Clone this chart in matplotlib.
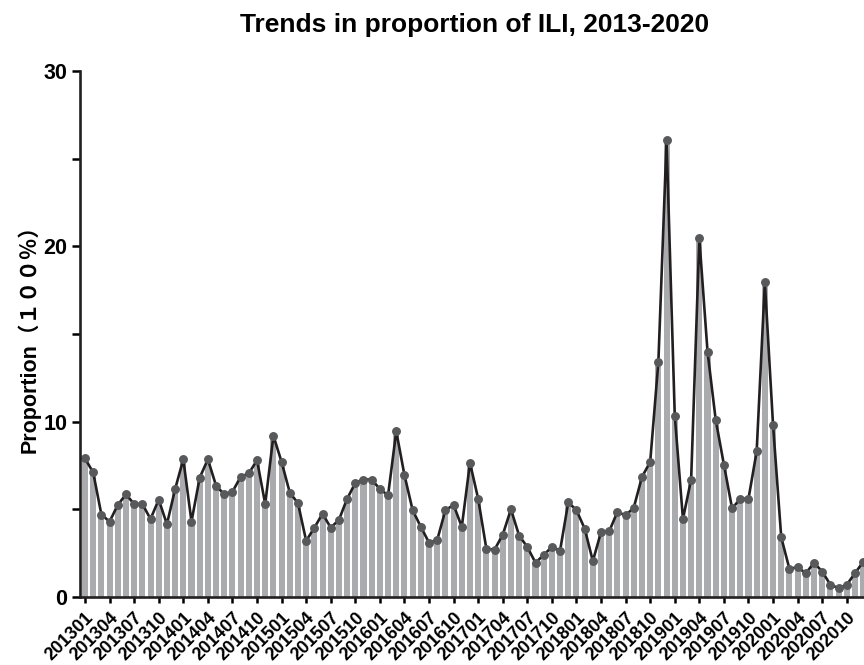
import matplotlib
matplotlib.use("Agg")
import matplotlib.pyplot as plt
import numpy as np

# Monthly ILI proportion (%), January 2013 - December 2020
months = [f"{y}{m:02d}" for y in range(2013, 2021) for m in range(1, 13)]
ili_2013 = [7.9, 7.1, 4.7, 4.3, 5.25, 5.85, 5.3, 5.3, 4.45, 5.55, 4.15, 6.15]
ili_2014 = [7.85, 4.3, 6.8, 7.85, 6.35, 5.85, 6.0, 6.85, 7.05, 7.8, 5.3, 9.2]
ili_2015 = [7.7, 5.95, 5.35, 3.2, 3.95, 4.75, 3.95, 4.4, 5.6, 6.5, 6.7, 6.7]
ili_2016 = [6.15, 5.8, 9.45, 6.95, 4.95, 4.0, 3.1, 3.25, 4.95, 5.25, 4.0, 7.65]
ili_2017 = [5.6, 2.75, 2.7, 3.55, 5.0, 3.5, 2.85, 1.95, 2.4, 2.85, 2.65, 5.4]
ili_2018 = [4.95, 3.9, 2.05, 3.7, 3.75, 4.85, 4.65, 5.1, 6.85, 7.7, 13.4, 26.05]
ili_2019 = [10.35, 4.45, 6.7, 20.45, 14.0, 10.1, 7.55, 5.05, 5.6, 5.6, 8.3, 17.95]
ili_2020 = [9.8, 3.4, 1.6, 1.7, 1.35, 1.95, 1.45, 0.7, 0.5, 0.7, 1.35, 2.0]
values = (ili_2013 + ili_2014 + ili_2015 + ili_2016 +
          ili_2017 + ili_2018 + ili_2019 + ili_2020)

tick_labels = months[::3]
y_ticks = [0, 10, 20, 30]

plt.rcParams["font.family"] = ["Liberation Sans", "Noto Sans CJK SC", "DejaVu Sans"]
plt.rcParams["font.weight"] = "bold"

fig = plt.figure(figsize=(8.64, 6.65), dpi=100)
ax = fig.add_axes([0.0927, 0.1023, 0.912, 0.7909])

x = np.arange(len(values))
ax.bar(x, values, width=0.74, color="#AAABAE", zorder=1)
ax.plot(x, values, color="#231F20", linewidth=1.9, zorder=2,
        marker="o", markersize=5.4, markerfacecolor="#58595B",
        markeredgecolor="#58595B")

ax.set_xlim(-0.6, 95.6)
ax.set_ylim(0, 30)
ax.set_yticks(y_ticks)
ax.set_yticks([5, 15, 25], minor=True)
ax.set_xticks(x[::3])
ax.set_xticklabels(tick_labels, rotation=45, ha="right", va="top",
                   rotation_mode="anchor", fontsize=13, fontweight="bold")
ax.tick_params(axis="y", which="major", direction="out", length=6, width=1.8,
               labelsize=15.5, pad=3)
ax.tick_params(axis="y", which="minor", direction="out", length=6, width=1.8)
ax.tick_params(axis="x", which="major", direction="out", length=4, width=1.8,
               pad=5)
for lab in ax.get_yticklabels():
    lab.set_fontweight("bold")

for side in ("top", "right"):
    ax.spines[side].set_visible(False)
for side in ("left", "bottom"):
    ax.spines[side].set_linewidth(1.9)
    ax.spines[side].set_color("#231F20")

ax.set_title("Trends in proportion of ILI, 2013-2020", fontsize=19,
             fontweight="bold", pad=28)
ax.set_ylabel("Proportion（１００％）", fontsize=15.5, fontweight="bold",
              labelpad=2)

fig.savefig("out.png", dpi=100)
